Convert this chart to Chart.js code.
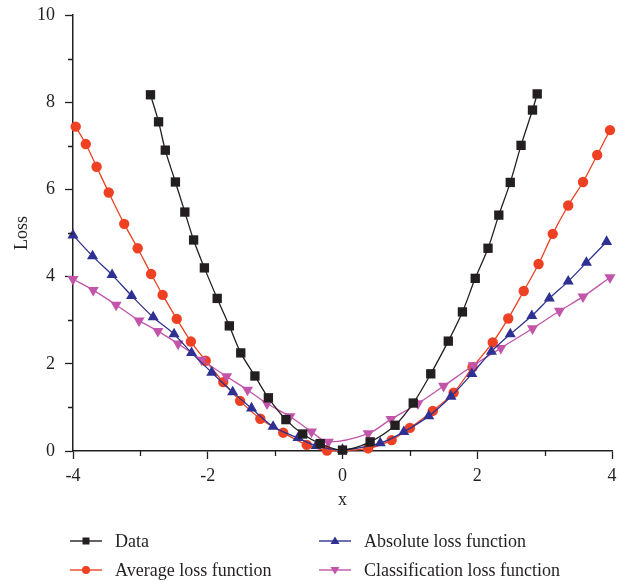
<!DOCTYPE html>
<html>
<head>
<meta charset="utf-8">
<script src="https://cdn.jsdelivr.net/npm/chart.js@4"></script>
<style>
  html, body { margin: 0; padding: 0; background: #fff; }
  #wrap { position: relative; width: 618px; height: 582px; }
  #c { position: absolute; left: 0; top: 0; }
  .leg { position: absolute; height: 24px; display: flex; align-items: center;
         font-family: "Liberation Serif", "DejaVu Serif", serif; font-size: 18px; color: #231f20; white-space: nowrap; }
  .leg svg { margin-right: 13px; }
</style>
</head>
<body>
<div id="wrap">
  <canvas id="c" width="618" height="582"></canvas>
</div>
<script>
// ---- data ----
const dataX = [-2.85,-2.73,-2.63,-2.48,-2.34,-2.21,-2.05,-1.86,-1.68,-1.51,-1.30,-1.10,-0.84,-0.59,-0.33,0.00,0.41,0.78,1.05,1.31,1.57,1.78,1.97,2.16,2.32,2.49,2.65,2.82,2.89];
const dataY = [8.17,7.55,6.90,6.17,5.48,4.84,4.20,3.50,2.87,2.25,1.72,1.22,0.72,0.39,0.17,0.02,0.21,0.59,1.10,1.77,2.52,3.19,3.96,4.65,5.41,6.16,7.01,7.82,8.19];

const avgX = [-3.96,-3.81,-3.65,-3.47,-3.24,-3.04,-2.84,-2.67,-2.46,-2.25,-2.03,-1.77,-1.52,-1.22,-0.88,-0.53,-0.23,0.38,0.73,1.00,1.34,1.65,1.93,2.23,2.46,2.69,2.91,3.12,3.35,3.57,3.78,3.97];
const avgY = [7.44,7.04,6.52,5.93,5.21,4.65,4.06,3.58,3.03,2.51,2.07,1.58,1.15,0.74,0.42,0.14,0.01,0.06,0.25,0.53,0.92,1.34,1.92,2.49,3.04,3.67,4.29,4.98,5.63,6.17,6.79,7.36];

const absX = [-4.00,-3.71,-3.42,-3.13,-2.81,-2.50,-2.24,-1.94,-1.63,-1.35,-1.03,-0.66,-0.39,0.00,0.56,0.91,1.28,1.61,1.92,2.21,2.49,2.81,3.07,3.35,3.62,3.92];
const absY = [4.95,4.47,4.04,3.56,3.07,2.68,2.25,1.80,1.35,0.98,0.56,0.30,0.12,0.03,0.18,0.44,0.80,1.25,1.77,2.28,2.68,3.10,3.50,3.89,4.32,4.80];

const clsX = [-4.00,-3.70,-3.36,-3.02,-2.74,-2.44,-2.09,-1.72,-1.41,-1.12,-0.78,-0.46,-0.21,0.38,0.72,1.12,1.50,1.94,2.35,2.82,3.22,3.57,3.97];
const clsY = [3.94,3.69,3.35,2.99,2.75,2.46,2.09,1.71,1.40,1.09,0.79,0.44,0.21,0.40,0.73,1.09,1.49,1.96,2.36,2.81,3.21,3.54,3.98];

const seriesNames = ["Data", "Average loss function", "Absolute loss function", "Classification loss function"];
const xTicks = [-4, -2, 0, 2, 4];
const yTicks = [0, 2, 4, 6, 8, 10];
const xMinor = [-3, -1, 1, 3];
const yMinor = [1, 3, 5, 7, 9];

// ---- styling ----
const colors = ["#231f20", "#ee4123", "#2e3192", "#c255a9"];
const styles = ["rect", "circle", "triangle", "triangle"];
const radii = [6.6, 5.2, 6.4, 6.4];
const rots = [0, 0, 0, 180];

function pts(xs, ys) { return xs.map((x, i) => ({ x: x, y: ys[i] })); }
const pairs = [[dataX, dataY], [avgX, avgY], [absX, absY], [clsX, clsY]];

const datasets = pairs.map((p, i) => ({
  label: seriesNames[i],
  data: pts(p[0], p[1]),
  borderColor: colors[i],
  backgroundColor: colors[i],
  borderWidth: 1.3,
  pointStyle: styles[i],
  pointRadius: radii[i],
  pointRotation: rots[i],
  pointBorderWidth: 0,
  pointBackgroundColor: colors[i],
  tension: 0.35,
  clip: false
}));
datasets[0].order = 0; datasets[1].order = 3; datasets[2].order = 1; datasets[3].order = 2;

const FONT = "'Liberation Serif', 'DejaVu Serif', serif";

const minorTicks = {
  id: 'minorTicks',
  afterDraw(chart) {
    const ctx = chart.ctx, xs = chart.scales.x, ys = chart.scales.y;
    const a = chart.chartArea;
    ctx.save();
    ctx.strokeStyle = '#231f20';
    ctx.lineWidth = 1.3;
    ctx.beginPath();
    xMinor.forEach(v => { const px = Math.round(xs.getPixelForValue(v)) + 0.5; ctx.moveTo(px, a.bottom); ctx.lineTo(px, a.bottom + 5); });
    yMinor.forEach(v => { const py = Math.round(ys.getPixelForValue(v)) + 0.5; ctx.moveTo(a.left, py); ctx.lineTo(a.left - 5, py); });
    ctx.stroke();
    ctx.restore();
  }
};

function zeroPad(s) { s.paddingTop = 0; s.paddingBottom = 0; s.paddingLeft = 0; s.paddingRight = 0; }

new Chart(document.getElementById('c'), {
  type: 'line',
  data: { datasets: datasets },
  options: {
    responsive: false,
    animation: false,
    layout: { autoPadding: false, padding: { left: 0, top: 15, right: 6, bottom: 71 } },
    plugins: { legend: { display: false }, tooltip: { enabled: false } },
    scales: {
      x: {
        type: 'linear', min: -4, max: 4,
        afterBuildTicks(s) { s.ticks = xTicks.map(v => ({ value: v })); },
        afterFit(s) { s.height = 60; zeroPad(s); },
        ticks: { font: { family: FONT, size: 18 }, color: '#231f20', padding: 6, maxRotation: 0 },
        grid: { drawOnChartArea: false, drawTicks: true, tickLength: 8, tickColor: '#231f20', tickWidth: 1.3 },
        border: { display: true, color: '#231f20', width: 1.5 },
        title: { display: true, text: 'x', font: { family: FONT, size: 18 }, color: '#231f20', padding: { top: 0, bottom: 0 } }
      },
      y: {
        type: 'linear', min: 0, max: 10,
        afterBuildTicks(s) { s.ticks = yTicks.map(v => ({ value: v })); },
        afterFit(s) { s.width = 73; zeroPad(s); },
        ticks: { font: { family: FONT, size: 18 }, color: '#231f20', padding: 10 },
        grid: { drawOnChartArea: false, drawTicks: true, tickLength: 8, tickColor: '#231f20', tickWidth: 1.3 },
        border: { display: true, color: '#231f20', width: 1.5 },
        title: { display: true, text: 'Loss', font: { family: FONT, size: 18 }, color: '#231f20', padding: { top: 11, bottom: 0 } }
      }
    }
  },
  plugins: [minorTicks]
});

// ---- legend (two columns) ----
const legPos = [[70, 541], [70, 570], [319, 541], [319, 570]];
const wrap = document.getElementById('wrap');
function markerSVG(i) {
  const c = colors[i];
  let m = '';
  if (i === 0) m = `<rect x="12.5" y="3.5" width="7" height="7" fill="${c}"/>`;
  else if (i === 1) m = `<circle cx="16" cy="7" r="4" fill="${c}"/>`;
  else if (i === 2) m = `<polygon points="16,2.5 20.5,10 11.5,10" fill="${c}"/>`;
  else m = `<polygon points="16,11.5 20.5,4 11.5,4" fill="${c}"/>`;
  return `<svg width="32" height="14" viewBox="0 0 32 14"><line x1="0" y1="7" x2="32" y2="7" stroke="${c}" stroke-width="1.4"/>${m}</svg>`;
}
seriesNames.forEach((name, i) => {
  const d = document.createElement('div');
  d.className = 'leg';
  d.style.left = legPos[i][0] + 'px';
  d.style.top = (legPos[i][1] - 12) + 'px';
  d.innerHTML = markerSVG(i) + '<span>' + name + '</span>';
  wrap.appendChild(d);
});
</script>
</body>
</html>
